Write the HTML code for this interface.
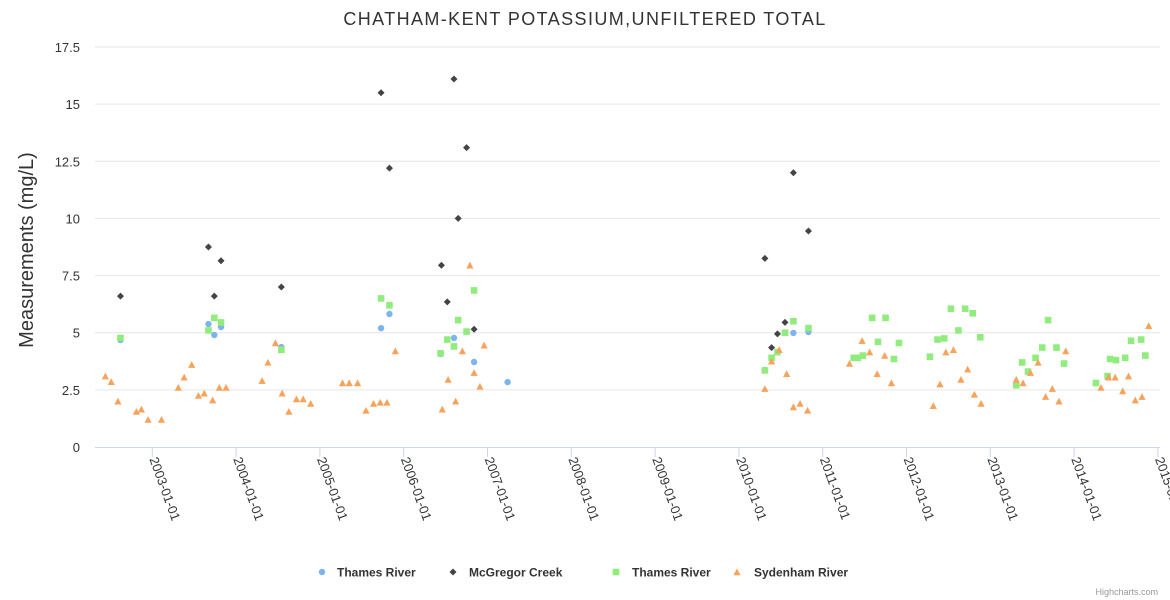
<!DOCTYPE html>
<html><head><meta charset="utf-8"><style>
html,body{margin:0;padding:0;background:#fff;}
svg{display:block;font-family:"Liberation Sans",sans-serif;}
</style></head><body>
<svg id="chart" width="1170" height="600"></svg>
<script>
const yTicks=[0,2.5,5,7.5,10,12.5,15,17.5];
const yTickLabels=["0","2.5","5","7.5","10","12.5","15","17.5"];
const xTickYears=[2003,2004,2005,2006,2007,2008,2009,2010,2011,2012,2013,2014,2015];
const xTickLabels=["2003-01-01","2004-01-01","2005-01-01","2006-01-01","2007-01-01","2008-01-01","2009-01-01","2010-01-01","2011-01-01","2012-01-01","2013-01-01","2014-01-01","2015-01-01"];
const seriesNames=["Thames River","McGregor Creek","Thames River","Sydenham River"];
const thamesBlueX=[2002.62,2003.67,2003.74,2003.82,2004.54,2005.73,2005.83,2006.44,2006.60,2006.84,2007.24,2010.31,2010.55,2010.65,2010.83];
const thamesBlueY=[4.68,5.38,4.9,5.25,4.37,5.2,5.82,4.07,4.77,3.72,2.84,3.37,4.99,4.99,5.03];
const mcgregorX=[2002.62,2003.67,2003.74,2003.82,2004.54,2005.73,2005.83,2006.45,2006.52,2006.60,2006.65,2006.75,2006.84,2010.31,2010.39,2010.46,2010.55,2010.65,2010.83];
const mcgregorY=[6.6,8.75,6.6,8.15,7.0,15.5,12.2,7.95,6.35,16.1,10.0,13.1,5.15,8.25,4.35,4.95,5.45,12.0,9.45];
const thamesGreenX=[2002.62,2003.67,2003.74,2003.82,2004.54,2005.73,2005.83,2006.44,2006.52,2006.60,2006.65,2006.75,2006.84,2010.31,2010.39,2010.46,2010.55,2010.65,2010.83,2011.37,2011.42,2011.48,2011.59,2011.66,2011.75,2011.85,2011.91,2012.28,2012.37,2012.45,2012.53,2012.62,2012.70,2012.79,2012.88,2013.31,2013.38,2013.45,2013.54,2013.62,2013.69,2013.79,2013.88,2014.26,2014.40,2014.43,2014.50,2014.61,2014.68,2014.80,2014.85];
const thamesGreenY=[4.77,5.1,5.65,5.45,4.25,6.5,6.2,4.1,4.7,4.4,5.55,5.05,6.85,3.35,3.9,4.15,5.0,5.5,5.2,3.9,3.9,4.0,5.65,4.6,5.65,3.85,4.55,3.95,4.7,4.75,6.05,5.1,6.05,5.85,4.8,2.7,3.7,3.3,3.9,4.35,5.55,4.35,3.65,2.8,3.1,3.85,3.8,3.9,4.65,4.7,4.0];
const sydenhamX=[2002.44,2002.51,2002.59,2002.81,2002.87,2002.95,2003.11,2003.31,2003.38,2003.47,2003.55,2003.62,2003.72,2003.80,2003.88,2004.31,2004.38,2004.47,2004.55,2004.63,2004.72,2004.80,2004.89,2005.27,2005.35,2005.45,2005.55,2005.64,2005.72,2005.80,2005.90,2006.46,2006.53,2006.62,2006.70,2006.79,2006.84,2006.91,2006.96,2010.31,2010.39,2010.48,2010.57,2010.65,2010.73,2010.82,2011.32,2011.47,2011.56,2011.65,2011.74,2011.82,2012.32,2012.40,2012.47,2012.56,2012.65,2012.73,2012.81,2012.89,2013.31,2013.39,2013.48,2013.57,2013.66,2013.74,2013.82,2013.90,2014.32,2014.41,2014.49,2014.58,2014.65,2014.73,2014.81,2014.89];
const sydenhamY=[3.1,2.85,2.0,1.55,1.65,1.2,1.2,2.6,3.05,3.6,2.25,2.35,2.05,2.6,2.6,2.9,3.7,4.55,2.35,1.55,2.1,2.1,1.9,2.8,2.8,2.8,1.6,1.9,1.95,1.95,4.2,1.65,2.95,2.0,4.2,7.95,3.25,2.65,4.45,2.55,3.75,4.25,3.2,1.75,1.9,1.6,3.65,4.65,4.15,3.2,4.0,2.8,1.8,2.75,4.15,4.25,2.95,3.4,2.3,1.9,2.95,2.8,3.25,3.7,2.2,2.55,2.0,4.2,2.6,3.05,3.05,2.45,3.1,2.05,2.2,5.3];

const NS="http://www.w3.org/2000/svg";
const svg=document.getElementById('chart');
const L=95,R=1160,T=47,B=447;
function xS(yr){return 152.3+(yr-2003)*83.8;}
function yS(v){return B-(v/17.5)*(B-T);}
function mk(tag,attrs,parent){const e=document.createElementNS(NS,tag);for(const k in attrs)e.setAttribute(k,attrs[k]);(parent||svg).appendChild(e);return e;}

let t=mk('text',{x:585,y:25,'text-anchor':'middle','font-size':18,fill:'#333','letter-spacing':'1.4'});


t.textContent='CHATHAM-KENT POTASSIUM,UNFILTERED TOTAL';

const grid=mk('g',{});


yTicks.forEach((v,i)=>{
  if(v>0) mk('line',{x1:L,x2:R,y1:yS(v),y2:yS(v),stroke:'#e6e6e6','stroke-width':1},grid);
  const lb=mk('text',{x:80,y:yS(v)+5,'text-anchor':'end','font-size':13,fill:'#333'});
  
  
  lb.textContent=yTickLabels[i];
});
const yt=mk('text',{x:33,y:250,'text-anchor':'middle','font-size':20,fill:'#333',transform:'rotate(-90 33 250)'});


yt.textContent='Measurements (mg/L)';

const ax=mk('line',{x1:L,x2:R,y1:B+0.5,y2:B+0.5,stroke:'#ccd6eb','stroke-width':1});


xTickYears.forEach((yr,i)=>{
  const x=xS(yr);
  if(x>1175) return;
  mk('line',{x1:x,x2:x,y1:B,y2:B+10,stroke:'#ccd6eb'});
  const lb=mk('text',{x:x-3,y:B+12,'font-size':13,fill:'#333',transform:`rotate(70 ${x-3} ${B+12})`});
  
  
  lb.textContent=xTickLabels[i];
});

function marker(type,x,y,color,g){
  if(type==='circle') return mk('circle',{cx:x,cy:y,r:3.2,fill:color},g);
  if(type==='diamond') return mk('path',{d:`M${x} ${y-3.5}L${x+3.5} ${y}L${x} ${y+3.5}L${x-3.5} ${y}Z`,fill:color},g);
  if(type==='square') return mk('rect',{x:x-3.3,y:y-3.3,width:6.6,height:6.6,fill:color},g);
  return mk('path',{d:`M${x} ${y-3.6}L${x+3.6} ${y+3.2}L${x-3.6} ${y+3.2}Z`,fill:color},g);
}
const series=[
 {xs:thamesBlueX,ys:thamesBlueY,type:'circle',color:'#7cb5ec',name:'thames-river-blue'},
 {xs:mcgregorX,ys:mcgregorY,type:'diamond',color:'#434348',name:'mcgregor-creek'},
 {xs:thamesGreenX,ys:thamesGreenY,type:'square',color:'#90ed7d',name:'thames-river-green'},
 {xs:sydenhamX,ys:sydenhamY,type:'triangle',color:'#f7a35c',name:'sydenham-river'}
];
series.forEach(s=>{
  const g=mk('g',{});
  
  
  s.xs.forEach((xv,i)=>{
    const m=marker(s.type,xS(xv),yS(s.ys[i]),s.color,g);
    
    
  });
});

const legX=[322,453,616,737];
const legTextX=[337,469,632,754];
series.forEach((s,i)=>{
  const g=mk('g',{});
  
  
  marker(s.type,legX[i],572,s.color,g);
  const tx=mk('text',{x:legTextX[i],y:576.5,'font-size':12,'font-weight':'bold',fill:'#333'},g);
  tx.textContent=seriesNames[i];
});
const cr=mk('text',{x:1158,y:595,'text-anchor':'end','font-size':9,fill:'#999'});


cr.textContent='Highcharts.com';
</script>
</body></html>
